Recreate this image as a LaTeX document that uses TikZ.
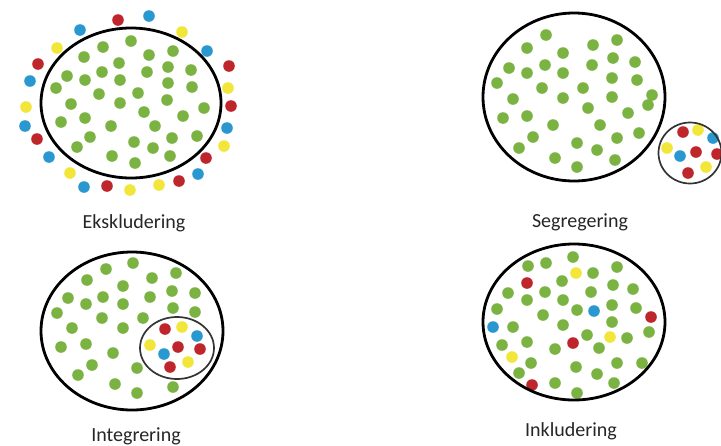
\documentclass[tikz,border=0pt]{standalone}
\usepackage{fontspec}
\setmainfont{Carlito}
\definecolor{dg}{HTML}{7AB342}
\definecolor{dr}{HTML}{BE262C}
\definecolor{db}{HTML}{2A98D0}
\definecolor{dy}{HTML}{F2E63A}
\definecolor{txt}{HTML}{262626}
\begin{document}
\begin{tikzpicture}[x=1pt,y=-1pt,
  gdot/.style={fill=dg},
  bigring/.style={draw=black,line width=2.8pt},
  smallring/.style={draw=black!80,line width=1.7pt},
  lab/.style={font=\fontsize{20}{22}\selectfont,text=txt,anchor=base,inner sep=0pt}]
\useasboundingbox (0,0) rectangle (721,445);
\fill[white] (0,0) rectangle (721,445);
\def\rr{5.8}

% ---------- Panel 1: Ekskludering ----------
\foreach \x/\y in {131/41,103/47,173/51,84/57,149/55,119/63,191/70,102/72,147/72,168/67,67/76,85/80,120/80,56/88,99/94,138/93,168/83,192/87,71/104,120/103,167/100,204/108,144/112,61/122,85/118,183/116,111/126,155/126,90/137,134/142,172/138,197/136,77/147,153/148,112/156,170/156,135/163}
  \fill[gdot] (\x,\y) circle (\rr);
\draw[bigring] (131,103) ellipse (90 and 75);
\foreach \x/\y/\c in {118/20/dr,149/16/db,80/30/db,182/32/dy,57/48/dy,207/51/db,38/64/dr,229/66/dr,30/81/db,228/88/dy,26/107/dy,231/106/dr,25/126/db,227/128/db,37/139/dr,224/146/dy,49/157/db,206/158/dr,70/173/dy,198/174/db,84/187/db,107/186/dr,130/190/dy,159/185/dy,179/181/dr}
  \fill[fill=\c] (\x,\y) circle (\rr);
\node[lab] (l1) at (134,228) {Ekskludering};

% ---------- Panel 2: Segregering ----------
\foreach \x/\y in {546/35,617/40,527/48,593/45,563/53,613/58,545/65,592/65,635/62,509/68,527/73,563/73,612/78,637/80,497/83,542/88,583/88,652/95,513/99,563/98,612/97,648/105,588/108,628/113,503/118,527/116,553/125,600/125,639/133,533/137,617/138,519/148,577/143,597/150,555/158,615/160,577/167}
  \fill[gdot] (\x,\y) circle (\rr);
\draw[bigring] (574,97) ellipse (91 and 84);
\foreach \x/\y/\c in {683/132/dr,698/130/dy,713/138/db,667/148/dy,680/156/db,696/152/dr,717/154/dr,706/167/dy,688/173/dr}
  \fill[fill=\c] (\x,\y) circle (\rr);
\draw[smallring] (690,153) ellipse (31.5 and 30.5);
\node[lab] (l2) at (580,227) {Segregering};

% ---------- Panel 3: Integrering ----------
\foreach \x/\y in {133/263,106/269,176/273,87/280,152/278,123/286,172/291,195/293,68/298,103/297,150/297,86/304,123/304,173/308,195/312,57/313,102/318,143/318,72/328,123/328,61/347,86/344,113/353,92/365,137/368,78/375,115/384,137/393,173/387}
  \fill[gdot] (\x,\y) circle (\rr);
\draw[bigring] (132,331) ellipse (91 and 79);
\foreach \x/\y/\c in {165/329/dr,182/327/dy,197/336/db,150/345/dy,178/347/dr,200/349/dr,164/354/db,188/362/dy,170/367/dr}
  \fill[fill=\c] (\x,\y) circle (\rr);
\draw[smallring] (177,348) ellipse (37 and 31);
\node[lab] (l3) at (136,441) {Integrering};

% ---------- Panel 4: Inkludering ----------
\foreach \x/\y/\c in {573/257/dg,528/266/dg,546/263/dg,576/273/dy,617/267/dg,527/283/dr,562/281/dg,593/273/dg,508/293/dg,545/292/dg,591/292/dg,613/285/dg,633/289/dg,527/300/dg,563/300/dg,612/305/dg,497/309/dg,543/315/dg,577/310/dg,594/311/db,636/308/dg,651/317/dr,493/327/db,513/327/dg,563/325/dg,612/322/dg,649/332/dg,587/335/dg,610/337/dy,627/338/dg,527/342/dg,502/345/dg,573/343/dr,555/349/dg,599/348/dg,512/357/dy,531/363/dg,576/367/dg,617/363/dg,642/363/dg,519/373/dg,597/374/dg,532/385/dr,555/383/dg,614/383/dg,577/393/dg}
  \fill[fill=\c] (\x,\y) circle (\rr);
\draw[bigring] (574,322) ellipse (91 and 78);
\node[lab] (l4) at (571,436) {Inkludering};
\end{tikzpicture}
\end{document}
